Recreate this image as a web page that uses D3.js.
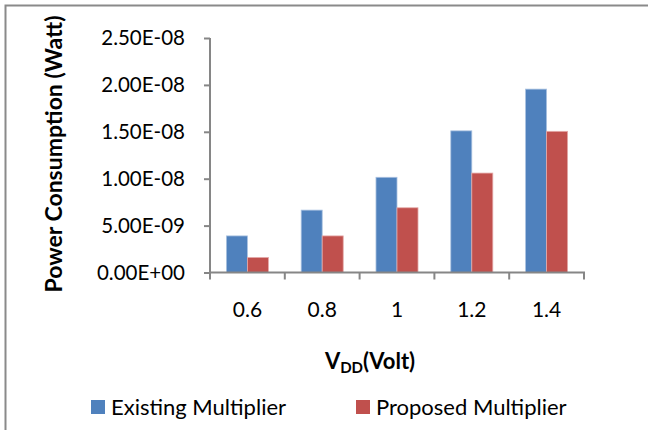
<!DOCTYPE html>
<html>
<head>
<meta charset="utf-8">
<script src="https://cdn.jsdelivr.net/npm/d3@7"></script>
<style>
  body { margin: 0; background: #fff; }
  svg, svg text { font-family: Lato, "Open Sans", sans-serif; }
  .tick text { fill: #000; }
</style>
</head>
<body>
<svg id="chart"></svg>
<script>
// chart values
var voltages = ["0.6", "0.8", "1", "1.2", "1.4"];
var seriesNames = ["Existing Multiplier", "Proposed Multiplier"];
var existing = [3.9e-9, 6.65e-9, 10.15e-9, 15.1e-9, 19.55e-9];
var proposed = [1.6e-9, 3.9e-9, 6.9e-9, 10.6e-9, 15.05e-9];
var yTicks = [0, 5e-9, 1e-8, 1.5e-8, 2e-8, 2.5e-8];

var COLORS = ["#4f81bd", "#c0504d"];
var AXIS_COLOR = "#868686";

var W = 648, H = 430;
var LEFT = 210, RIGHT = 584, TOP = 38, BOTTOM = 272.5;

var svg = d3.select("#chart").attr("width", W).attr("height", H);

// frame (only top & left visible in the original crop)
svg.append("path")
    .attr("d", "M5.5," + H + "V5.5H" + W)
    .attr("fill", "none")
    .attr("stroke", "#8a8a8a")
    .attr("stroke-width", 2);

var x = d3.scaleBand().domain(voltages).range([LEFT, RIGHT]);
var xs = d3.scaleBand().domain(seriesNames).range([0, x.bandwidth()]).paddingOuter(0.78);
var y = d3.scaleLinear().domain([0, 2.5e-8]).range([BOTTOM, TOP]);

function sci(v) {
    if (v === 0) return "0.00E+00";
    var s = d3.format(".2e")(v);           // e.g. 2.50e-8
    var parts = s.split("e");
    var exp = +parts[1];
    var sign = exp < 0 ? "-" : "+";
    var e = Math.abs(exp);
    return parts[0] + "E" + sign + (e < 10 ? "0" + e : e);
}

// bars
var rows = voltages.map(function(v, i) {
    return { v: v, vals: [existing[i], proposed[i]] };
});

var groups = svg.selectAll("g.grp")
    .data(rows)
    .enter()
    .append("g")
    .attr("class", "grp")
    .attr("transform", function(d) { return "translate(" + x(d.v) + ",0)"; });

groups.selectAll("rect")
    .data(function(d) {
        return d.vals.map(function(val, j) { return { name: seriesNames[j], val: val, j: j }; });
    })
    .enter()
    .append("rect")
    .attr("x", function(d) { return xs(d.name); })
    .attr("width", xs.bandwidth())
    .attr("y", function(d) { return y(d.val); })
    .attr("height", function(d) { return BOTTOM - y(d.val); })
    .attr("fill", function(d) { return COLORS[d.j]; })
    .attr("stroke", function(d) { return d.j === 0 ? "#a9c1e0" : "#e4a9a8"; })
    .attr("stroke-width", 0.8);

// y axis
var yAxis = svg.append("g")
    .attr("transform", "translate(" + LEFT + ",0)")
    .call(d3.axisLeft(y).tickValues(yTicks).tickFormat(sci).tickSize(6).tickPadding(19));
yAxis.attr("font-family", null);
yAxis.select(".domain").attr("stroke", AXIS_COLOR).attr("stroke-width", 2).attr("d", "M0," + TOP + "V" + BOTTOM);
yAxis.selectAll(".tick line").attr("stroke", AXIS_COLOR).attr("stroke-width", 2);
yAxis.selectAll(".tick text").attr("font-size", 20.5);

// x axis: labels at band centres, tick marks on band edges
var xAxis = svg.append("g")
    .attr("transform", "translate(0," + BOTTOM + ")")
    .call(d3.axisBottom(x).tickSize(0).tickPadding(30));
xAxis.attr("font-family", null);
xAxis.select(".domain").attr("stroke", AXIS_COLOR).attr("stroke-width", 2).attr("d", "M" + (LEFT - 1) + ",0H" + (RIGHT + 1));
xAxis.selectAll(".tick text").attr("font-size", 21);

var edges = voltages.map(function(v) { return x(v); }).concat([x.range()[1]]);
xAxis.selectAll("line.edge")
    .data(edges)
    .enter()
    .append("line")
    .attr("class", "edge")
    .attr("x1", function(d) { return d; })
    .attr("x2", function(d) { return d; })
    .attr("y1", 0)
    .attr("y2", 7)
    .attr("stroke", AXIS_COLOR)
    .attr("stroke-width", 2);

// axis titles
svg.append("text")
    .attr("transform", "translate(62,154) rotate(-90)")
    .attr("text-anchor", "middle")
    .attr("font-size", 23)
    .attr("font-weight", "bold")
    .text("Power Consumption (Watt)");

var xt = svg.append("text")
    .attr("x", 370)
    .attr("y", 369)
    .attr("text-anchor", "middle")
    .attr("font-size", 22)
    .attr("font-weight", "bold");
xt.append("tspan").text("V");
xt.append("tspan").attr("font-size", 15).attr("dy", 4).text("DD");
xt.append("tspan").attr("dy", -4).text("(Volt)");

// legend
var legendX = [91, 356];
var legend = svg.selectAll("g.leg")
    .data(seriesNames)
    .enter()
    .append("g")
    .attr("class", "leg")
    .attr("transform", function(d, i) { return "translate(" + legendX[i] + ",400)"; });
legend.append("rect")
    .attr("width", 14)
    .attr("height", 14)
    .attr("fill", function(d, i) { return COLORS[i]; });
legend.append("text")
    .attr("x", 20)
    .attr("y", 15)
    .attr("font-size", 22)
    .text(function(d) { return d; });
</script>
</body>
</html>
